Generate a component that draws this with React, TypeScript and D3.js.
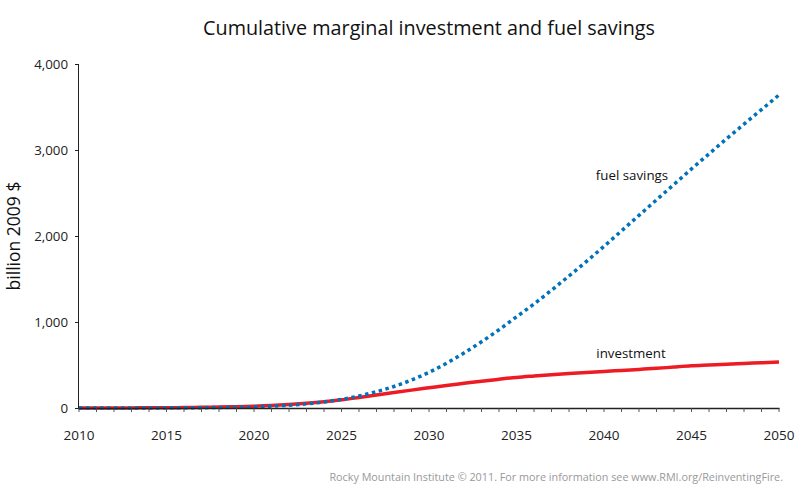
import * as d3 from "d3";

const years = d3.range(2010, 2051);
const fuelSavings = [
  0, 0, 0, 0, 1, 2, 3, 4, 6, 9, 14, 22, 33, 48, 70, 100, 140, 190, 250, 325, 415,
  520, 640, 770, 910, 1060, 1210, 1370, 1535, 1705, 1880, 2060, 2240, 2420, 2600,
  2780, 2955, 3130, 3300, 3470, 3640,
];
const investment = [
  0, 0, 0, 1, 2, 3, 5, 8, 11, 15, 20, 28, 40, 55, 73, 95, 122, 150, 180, 208, 235,
  262, 287, 312, 334, 355, 372, 388, 402, 414, 425, 437, 449, 461, 476, 490, 500,
  510, 518, 527, 535,
];
const xTicks = [2010, 2015, 2020, 2025, 2030, 2035, 2040, 2045, 2050];
const yTicks = [0, 1000, 2000, 3000, 4000];

const font = "'Open Sans', sans-serif";

export default function App() {
  const width = 800;
  const height = 501;
  const x = d3.scaleLinear([2010, 2050], [79, 779]);
  const y = d3.scaleLinear([0, 4000], [408, 64]);
  const line = d3
    .line<number>()
    .x((_d, i) => x(years[i]))
    .y((d) => y(d))
    .curve(d3.curveMonotoneX);

  return (
    <svg
      width={width}
      height={height}
      style={{ position: "absolute", left: 0, top: 0, background: "#fff" }}
      fontFamily={font}
    >
      <text x={429} y={35} textAnchor="middle" fontSize={19.8} fill="#111">
        Cumulative marginal investment and fuel savings
      </text>

      <path d={line(investment) || ""} fill="none" stroke="#ED1C24" strokeWidth={3.5} />
      <path
        d={line(fuelSavings) || ""}
        fill="none"
        stroke="#0072BC"
        strokeWidth={3.5}
        strokeDasharray="3.5 3.5"
      />

      {/* y axis */}
      <line x1={78.5} x2={78.5} y1={y(4000)} y2={y(0)} stroke="#222" strokeWidth={1} />
      {yTicks.map((t) => (
        <g key={t}>
          <line x1={75} x2={78.5} y1={Math.round(y(t)) + 0.5} y2={Math.round(y(t)) + 0.5} stroke="#222" />
          <text x={68} y={y(t) + 4.5} textAnchor="end" fontSize={13.3} fill="#222">
            {d3.format(",")(t)}
          </text>
        </g>
      ))}

      {/* x axis */}
      <line x1={78} x2={779.5} y1={408.5} y2={408.5} stroke="#222" strokeWidth={1.3} />
      {years.map((yr) => (
        <line key={yr} x1={x(yr)} x2={x(yr)} y1={408} y2={412} stroke="#444" strokeWidth={0.9} />
      ))}
      {xTicks.map((t) => (
        <text key={t} x={x(t)} y={440} textAnchor="middle" fontSize={13.5} fill="#222">
          {t}
        </text>
      ))}

      <text
        transform={`translate(20,236) rotate(-90)`}
        textAnchor="middle"
        fontSize={17.5}
        fill="#111"
      >
        billion 2009 $
      </text>

      <text x={632} y={180} textAnchor="middle" fontSize={13.3} fill="#111">
        fuel savings
      </text>
      <text x={631} y={358} textAnchor="middle" fontSize={13.3} fill="#111">
        investment
      </text>

      <text x={783} y={481} textAnchor="end" fontSize={10.8} fill="#999">
        Rocky Mountain Institute © 2011. For more information see www.RMI.org/ReinventingFire.
      </text>
    </svg>
  );
}
